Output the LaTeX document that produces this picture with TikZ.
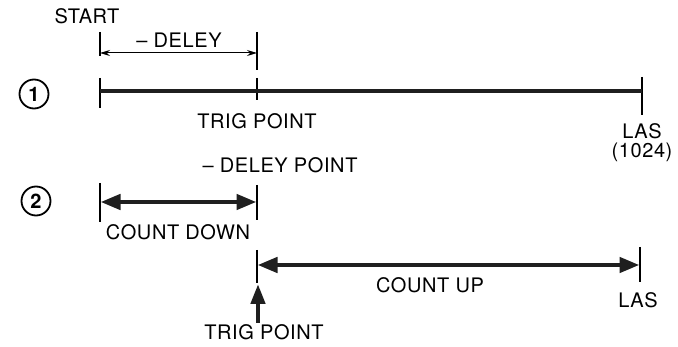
\documentclass[tikz,border=0pt]{standalone}
\usepackage{fontspec}
\setmainfont{TeX Gyre Heros}[LetterSpace=3]
\usetikzlibrary{arrows.meta}
\begin{document}
\begin{tikzpicture}[x=1pt,y=-1pt,
  lbl/.style={font=\fontsize{20}{24}\selectfont, inner sep=0pt},
  tickline/.style={line width=1.3pt},
  heavy/.style={line width=4.5pt, color=black!88},
  thinarrow/.style={line width=1pt, {Stealth[length=10pt,width=6pt]}-{Stealth[length=10pt,width=6pt]}},
  heavyarrow/.style={heavy, {Triangle[length=20pt,width=15pt]}-{Triangle[length=20pt,width=15pt]}, shorten <=0.5pt, shorten >=0.5pt},
  numcircle/.style={circle, draw, line width=1.8pt, minimum size=29pt, inner sep=0pt, font=\fontsize{20}{24}\selectfont\bfseries}]
\useasboundingbox (0,0) rectangle (678,347);

% labels
\node[lbl] (start) at (87,16) {START};
\node[lbl] (deley) at (179,40) {– DELEY};
\node[numcircle] (c1) at (34,94) {1};
\node[lbl] (trig1) at (257,121) {TRIG POINT};
\node[lbl] (las1) at (642,131) {LAS};
\node[lbl] (las1n) at (642,152) {(1024)};
\node[lbl] (dpoint) at (280,165) {– DELEY POINT};
\node[numcircle] (c2) at (36,201) {2};
\node[lbl] (cdown) at (178,232) {COUNT DOWN};
\node[lbl] (cup) at (430,285) {COUNT UP};
\node[lbl] (las2) at (638,300) {LAS};
\node[lbl] (trig2) at (264,332) {TRIG POINT};

% coordinates
\coordinate (dA) at (100,53);
\coordinate (dB) at (257,53);
\coordinate (l1A) at (100,91);
\coordinate (l1B) at (642,91);
\coordinate (l2A) at (100,202);
\coordinate (l2B) at (257,202);
\coordinate (l3A) at (257,265);
\coordinate (l3B) at (640,265);
\coordinate (upbase) at (258,323);
\coordinate (uptip) at (258,284);

% ticks
\draw[tickline] (100,32) -- (100,56);
\draw[tickline] (257,32) -- (257,70);
\draw[tickline] (100,78) -- (100,108);
\draw[tickline] (257,78) -- (257,100);
\draw[tickline] (642,77) -- (642,115);
\draw[tickline] (100,183) -- (100,222);
\draw[tickline] (257,185) -- (257,220);
\draw[tickline] (257,250) -- (257,283);
\draw[tickline] (640,247) -- (640,282);

% lines and arrows
\draw[thinarrow] (dA) -- (dB);
\draw[heavy] (l1A) -- (l1B);
\draw[heavyarrow] (l2A) -- (l2B);
\draw[heavyarrow] (l3A) -- (l3B);
\draw[heavy, -{Triangle[length=20pt,width=14pt]}] (upbase) -- (uptip);
\end{tikzpicture}
\end{document}
